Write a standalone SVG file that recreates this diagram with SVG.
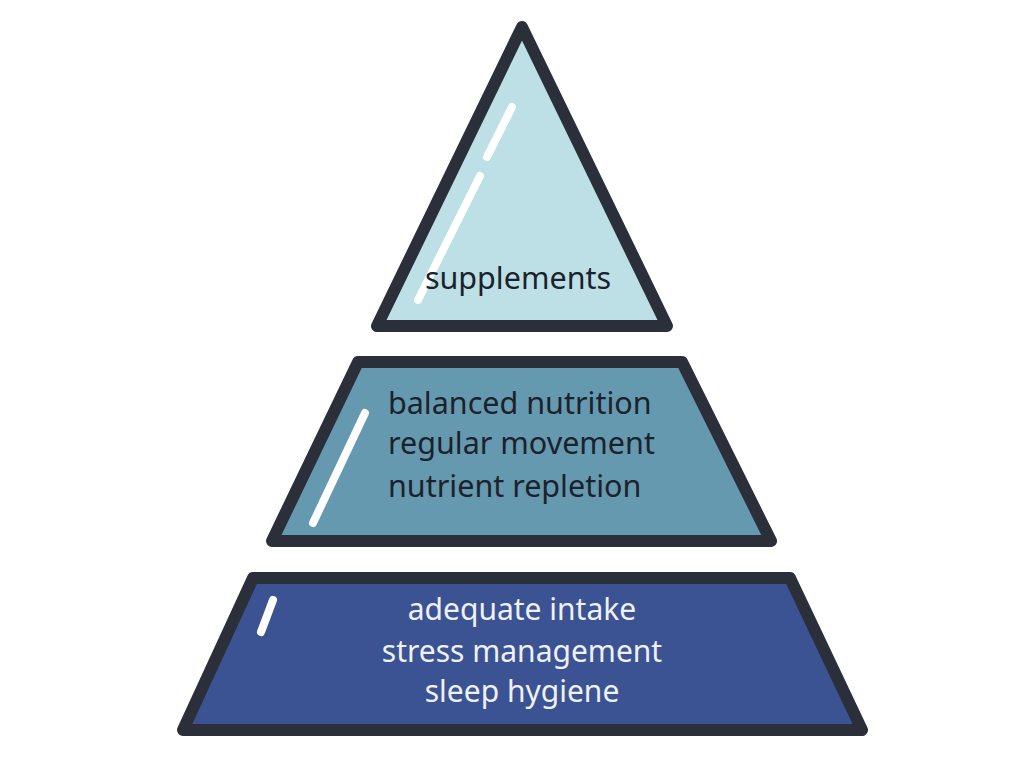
<svg xmlns="http://www.w3.org/2000/svg" width="1024" height="768" viewBox="0 0 1024 768">
<style>
.tier{stroke:#2b2f3a;stroke-width:12;stroke-linejoin:round}
.hl{stroke:#ffffff;stroke-width:8;stroke-linecap:round;fill:none}
.dark{font-family:"Noto Sans",sans-serif;font-size:30.5px;fill:#1c222c}
.light{font-family:"Noto Sans",sans-serif;font-size:30px;fill:#eef1f7;text-anchor:middle}
</style>
<rect width="1024" height="768" fill="#ffffff"/>
<g id="tier-top">
<polygon class="tier" points="522,27 377,326 667,326" fill="#bce0e6"/>
<line class="hl" x1="512" y1="107" x2="487" y2="157"/>
<line class="hl" x1="480" y1="176" x2="418" y2="300"/>
<text class="dark" x="518" y="289" text-anchor="middle">supplements</text>
</g>
<g id="tier-middle">
<polygon class="tier" points="358,362 682,362 771,541 272,541" fill="#6599af"/>
<line class="hl" x1="365" y1="413" x2="313" y2="523"/>
<text class="dark" x="388" y="414">balanced nutrition</text>
<text class="dark" x="388" y="454">regular movement</text>
<text class="dark" x="388" y="497">nutrient repletion</text>
</g>
<g id="tier-bottom">
<polygon class="tier" points="253,578 790,578 862,730 183,730" fill="#3c5393"/>
<line class="hl" x1="273" y1="600" x2="261" y2="632"/>
<text class="light" x="522" y="620">adequate intake</text>
<text class="light" x="522" y="662">stress management</text>
<text class="light" x="522" y="702">sleep hygiene</text>
</g>
<g id="connectors"/>
</svg>
